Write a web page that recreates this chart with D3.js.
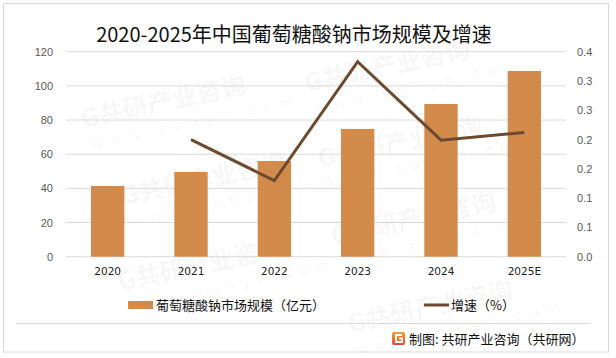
<!DOCTYPE html>
<html><head><meta charset="utf-8">
<script src="https://cdn.jsdelivr.net/npm/d3@7"></script>
<style>
body{margin:0;background:#fff;}
svg{display:block;font-family:"Noto Sans CJK SC","Noto Sans",sans-serif;}
</style></head>
<body><svg id="c" width="616" height="358"></svg>
<script>
const categories = ["2020","2021","2022","2023","2024","2025E"];
const marketSize = [41.4, 49.6, 56.0, 74.8, 89.4, 108.7];
const growthRate = [null, 0.200, 0.130, 0.333, 0.199, 0.212];
const leftTicks = [0,20,40,60,80,100,120];
const rightTicks = [0,0.05,0.10,0.15,0.20,0.25,0.30,0.35];
const rightTickLabels = ["0.0","0.1","0.1","0.2","0.2","0.3","0.3","0.4"];
const title = "2020-2025年中国葡萄糖酸钠市场规模及增速";
const legendBar = "葡萄糖酸钠市场规模（亿元）";
const legendLine = "增速（%）";
const sourceText = "制图: 共研产业咨询（共研网）";

(function(){
const svg = d3.select("#c");
const pL=66,pR=566,pT=51.7,pB=256.7;
const barColor="#d38b4c", lineColor="#6b4a2f";

// outer border
svg.append("rect").attr("x",3.5).attr("y",3.5).attr("width",605).attr("height",348.5)
  .attr("fill","#fff").attr("stroke","#d9d9d9");

// watermarks (interior only)
const wm = svg.append("g").attr("fill","#000").attr("fill-opacity",0.045);
const wmPos=[[83,128],[307,92],[320,168],[123,205],[333,245],[120,291],[350,333]];
wmPos.forEach(([x,y])=>{
  const g=wm.append("g").attr("transform",`translate(${x},${y}) rotate(-12)`);
  g.append("text").attr("font-size",25).attr("font-weight",700).attr("x",0).attr("y",0).text("G共研产业咨询");
  g.append("text").attr("font-size",14).attr("letter-spacing",8).attr("x",4).attr("y",22).text("www.gonyn.com");
});

// scales
const x = d3.scaleBand().domain(categories).range([pL,pR]).paddingInner(0.6).paddingOuter(0.3);
const yL = d3.scaleLinear().domain([0,120]).range([pB,pT]);
const yR = d3.scaleLinear().domain([0,0.35]).range([pB,pT]);

// gridlines
svg.append("g").selectAll("line").data(leftTicks).join("line")
  .attr("x1",pL).attr("x2",pR).attr("y1",d=>yL(d)).attr("y2",d=>yL(d))
  .attr("stroke","#d9d9d9").attr("stroke-width",1);

// left axis
const ax = svg.append("g").attr("transform",`translate(53,0)`)
  .call(d3.axisLeft(yL).tickValues(leftTicks).tickSize(0).tickPadding(0));
ax.select(".domain").remove();
ax.selectAll("text").attr("font-size",11).attr("fill","#595959").attr("font-family","Liberation Sans, Arial, sans-serif");

// right axis
const ar = svg.append("g").attr("transform",`translate(577,0)`)
  .call(d3.axisRight(yR).tickValues(rightTicks).tickFormat((d,i)=>rightTickLabels[i]).tickSize(0).tickPadding(0));
ar.select(".domain").remove();
ar.selectAll("text").attr("font-size",11).attr("fill","#595959").attr("font-family","Liberation Sans, Arial, sans-serif");

// bars
svg.append("g").selectAll("rect").data(categories).join("rect")
  .attr("x",d=>x(d)).attr("width",x.bandwidth())
  .attr("y",(d,i)=>yL(marketSize[i])).attr("height",(d,i)=>yL(0)-yL(marketSize[i]))
  .attr("fill",barColor);

// line
const pts = categories.map((c,i)=>({c,v:growthRate[i]}));
const line = d3.line().defined(d=>d.v!=null).x(d=>x(d.c)+x.bandwidth()/2).y(d=>yR(d.v));
svg.append("path").datum(pts).attr("d",line).attr("fill","none")
  .attr("stroke",lineColor).attr("stroke-width",3).attr("stroke-linejoin","miter");

// x axis labels
const axb = svg.append("g").attr("transform",`translate(0,268)`)
  .call(d3.axisBottom(x).tickSize(0).tickPadding(0));
axb.select(".domain").remove();
axb.selectAll("text").attr("fill","#222").attr("dy","0.71em").attr("font-family","DejaVu Sans, sans-serif").attr("font-size",10.5);

// title
svg.append("text").attr("x",294).attr("y",42).attr("text-anchor","middle")
  .attr("font-size",20).attr("fill","#111").text(title);

// legend
svg.append("rect").attr("x",128).attr("y",301).attr("width",25).attr("height",8).attr("fill",barColor);
svg.append("text").attr("x",156).attr("y",310).attr("font-size",13).attr("fill","#111").text(legendBar);
svg.append("line").attr("x1",424).attr("x2",449).attr("y1",305).attr("y2",305).attr("stroke",lineColor).attr("stroke-width",3);
svg.append("text").attr("x",451).attr("y",310).attr("font-size",13).attr("fill","#111").text(legendLine);

// separator
svg.append("line").attr("x1",16).attr("x2",590).attr("y1",323.5).attr("y2",323.5).attr("stroke","#d9d9d9");

// source logo
const grad = svg.append("defs").append("linearGradient").attr("id","lgG").attr("x1",0).attr("y1",0).attr("x2",0).attr("y2",1);
grad.append("stop").attr("offset","0%").attr("stop-color","#f7a03a");
grad.append("stop").attr("offset","100%").attr("stop-color","#e8452b");
const lg = svg.append("g").attr("transform","translate(392,332)");
lg.append("rect").attr("width",13).attr("height",13).attr("rx",2).attr("fill","url(#lgG)");
lg.append("path").attr("d","M10,3 H4 V10 H10 V6.5 H7").attr("fill","none").attr("stroke","#fff").attr("stroke-width",2);
svg.append("text").attr("x",409).attr("y",344).attr("font-size",13).attr("fill","#111").text(sourceText);
})();
</script></body></html>
